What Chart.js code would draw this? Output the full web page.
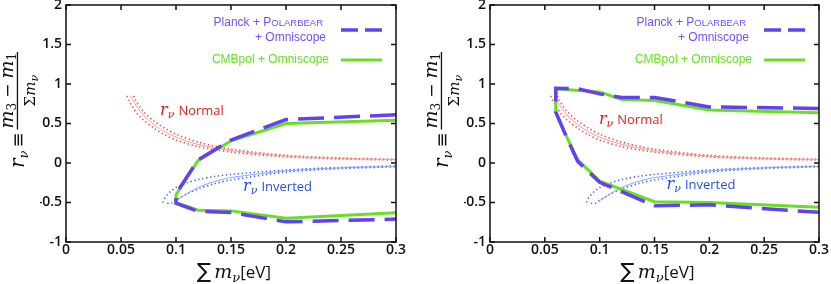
<!DOCTYPE html>
<html>
<head>
<meta charset="utf-8">
<script src="https://cdn.jsdelivr.net/npm/chart.js@4.4.0/dist/chart.umd.min.js"></script>
<style>
  html, body { margin: 0; padding: 0; background: #fff; }
  #wrap { position: relative; width: 831px; height: 284px; overflow: hidden; }
  canvas { position: absolute; top: 0; }
</style>
</head>
<body>
<div id="wrap">
  <canvas id="chartLeft" width="415" height="284" style="left:0"></canvas>
  <canvas id="chartRight" width="416" height="284" style="left:415px"></canvas>
</div>
<script>
// ── data ─────────────────────────────────────────────────
const XTICKS = [0, 0.05, 0.1, 0.15, 0.2, 0.25, 0.3];
const XTICK_LABELS = ['0', '0.05', '0.1', '0.15', '0.2', '0.25', '0.3'];
const YTICKS = [-1, -0.5, 0, 0.5, 1, 1.5, 2];
const YTICK_LABELS = ['-1', '-0.5', '0', '0.5', '1', '1.5', '2'];

// r_nu for the normal hierarchy (central + two dotted bounds)
const NORMAL_X    = [0.0587, 0.06, 0.065, 0.07, 0.08, 0.09, 0.1, 0.12, 0.15, 0.2, 0.25, 0.3];
const NORMAL_Y    = [0.85, 0.81, 0.70, 0.61, 0.485, 0.395, 0.327, 0.236, 0.157, 0.088, 0.058, 0.043];
const NORMAL_HI_X = [0.0615, 0.063, 0.067, 0.07, 0.08, 0.09, 0.1, 0.12, 0.15, 0.2, 0.25, 0.3];
const NORMAL_HI_Y = [0.85, 0.80, 0.71, 0.655, 0.53, 0.44, 0.365, 0.265, 0.175, 0.097, 0.064, 0.048];
const NORMAL_LO_X = [0.0555, 0.057, 0.06, 0.065, 0.07, 0.08, 0.09, 0.1, 0.12, 0.15, 0.2, 0.25, 0.3];
const NORMAL_LO_Y = [0.85, 0.80, 0.72, 0.62, 0.55, 0.44, 0.355, 0.29, 0.208, 0.139, 0.078, 0.051, 0.038];

// r_nu for the inverted hierarchy
const INVERTED_X    = [0.0995, 0.1, 0.101, 0.103, 0.105, 0.11, 0.12, 0.135, 0.15, 0.2, 0.25, 0.3];
const INVERTED_Y    = [-0.50, -0.48, -0.465, -0.45, -0.435, -0.387, -0.31, -0.235, -0.185, -0.10, -0.062, -0.043];
const INVERTED_HI_X = [0.088, 0.09, 0.095, 0.1, 0.11, 0.12, 0.135, 0.15, 0.2, 0.25, 0.3];
const INVERTED_HI_Y = [-0.50, -0.44, -0.36, -0.31, -0.25, -0.21, -0.17, -0.145, -0.088, -0.056, -0.038];
const INVERTED_LO_X = [0.092, 0.096, 0.1, 0.105, 0.11, 0.12, 0.135, 0.15, 0.2, 0.25, 0.3];
const INVERTED_LO_Y = [-0.51, -0.51, -0.47, -0.43, -0.39, -0.33, -0.262, -0.215, -0.115, -0.07, -0.048];

// left panel contours
const LEFT_PLANCK_X = [0.3, 0.2, 0.15, 0.12, 0.1, 0.1, 0.12, 0.15, 0.2, 0.3];
const LEFT_PLANCK_Y = [0.61, 0.55, 0.29, 0.04, -0.39, -0.51, -0.61, -0.627, -0.745, -0.71];
const LEFT_CMB_X    = [0.3, 0.2, 0.15, 0.12, 0.1, 0.1, 0.12, 0.15, 0.2, 0.3];
const LEFT_CMB_Y    = [0.54, 0.50, 0.28, 0.03, -0.40, -0.50, -0.597, -0.606, -0.699, -0.631];

// right panel contours
const RIGHT_PLANCK_X = [0.3, 0.2, 0.15, 0.12, 0.1, 0.08, 0.06, 0.06, 0.07, 0.08, 0.1, 0.15, 0.2, 0.3];
const RIGHT_PLANCK_Y = [0.69, 0.71, 0.83, 0.83, 0.875, 0.94, 0.945, 0.64, 0.32, 0.02, -0.245, -0.54, -0.53, -0.625];
const RIGHT_CMB_X    = [0.3, 0.2, 0.15, 0.12, 0.1, 0.06, 0.06, 0.07, 0.08, 0.1, 0.15, 0.2, 0.3];
const RIGHT_CMB_Y    = [0.635, 0.67, 0.79, 0.805, 0.90, 0.94, 0.65, 0.33, 0.04, -0.23, -0.49, -0.50, -0.56];

const COLORS = {
  planck:   '#6440f2',
  planckTx: '#7050ff',
  cmb:      '#66e022',
  red:      '#ff4848',
  redThin:  '#ff9a9a',
  redText:  '#e41c1c',
  blue:     '#4a6af0',
  blueThin: '#8ea4ff',
  blueText: '#2a4ee0',
  axis:     '#111',
};

const pts = (xs, ys) => xs.map((x, i) => ({ x, y: ys[i] }));

function curveSets() {
  const dotted = (xs, ys, c) => ({ data: pts(xs, ys), borderColor: c, borderWidth: 1.6, borderDash: [1.4, 2.6], pointRadius: 0, showLine: true, tension: 0.3 });
  const thin   = (xs, ys, c) => ({ data: pts(xs, ys), borderColor: c, borderWidth: 1, pointRadius: 0, showLine: true, tension: 0.3 });
  return [
    thin(NORMAL_X, NORMAL_Y, COLORS.redThin),
    dotted(NORMAL_HI_X, NORMAL_HI_Y, COLORS.red),
    dotted(NORMAL_LO_X, NORMAL_LO_Y, COLORS.red),
    thin(INVERTED_X, INVERTED_Y, COLORS.blueThin),
    dotted(INVERTED_HI_X, INVERTED_HI_Y, COLORS.blue),
    dotted(INVERTED_LO_X, INVERTED_LO_Y, COLORS.blue),
  ];
}

// ── text helpers ──────────────────────────────────────────
const MATH = '"DejaVu Serif"';
const SANS = '"Open Sans"';

// draw pieces left to right, returns end x
function run(ctx, x, y, parts) {
  parts.forEach(p => {
    ctx.font = p.font;
    ctx.fillText(p.t, x, y + (p.dy || 0));
    x += ctx.measureText(p.t).width + (p.gap || 0);
  });
  return x;
}
function runWidth(ctx, parts) {
  let w = 0;
  parts.forEach(p => { ctx.font = p.font; w += ctx.measureText(p.t).width + (p.gap || 0); });
  return w;
}

function drawYTitle(ctx, a) {
  ctx.save();
  ctx.translate(a.left - 42, 168);
  ctx.rotate(-Math.PI / 2);
  ctx.fillStyle = COLORS.axis;
  ctx.textAlign = 'left';
  ctx.textBaseline = 'alphabetic';
  let u = run(ctx, 0, 0, [
    { t: 'r', font: `italic 20px ${MATH}` },
    { t: 'ν', font: `italic 13px ${MATH}`, dy: 4, gap: 3 },
    { t: '≡', font: `18px "DejaVu Sans"`, gap: 3 },
  ]);
  const num = [
    { t: 'm', font: `italic 19px ${MATH}` },
    { t: '3', font: `12px ${MATH}`, dy: 3, gap: 5 },
    { t: '−', font: `17px "DejaVu Sans"`, gap: 5 },
    { t: 'm', font: `italic 19px ${MATH}` },
    { t: '1', font: `12px ${MATH}`, dy: 3 },
  ];
  const den = [
    { t: 'Σ', font: `15px ${MATH}` },
    { t: 'm', font: `italic 15px ${MATH}` },
    { t: 'ν', font: `italic 11px ${MATH}`, dy: 3 },
  ];
  const nw = runWidth(ctx, num), dw = runWidth(ctx, den);
  const fw = Math.max(nw, dw) + 2;
  ctx.fillRect(u, -7.2, fw, 1.3);
  run(ctx, u + (fw - nw) / 2, -11, num);
  run(ctx, u + (fw - dw) / 2, 11, den);
  ctx.restore();
}

function drawXTitle(ctx, a) {
  const parts = [
    { t: '∑', font: `21px "DejaVu Sans"`, gap: 3 },
    { t: 'm', font: `italic 19px ${MATH}` },
    { t: 'ν', font: `italic 13px ${MATH}`, dy: 4 },
    { t: '[eV]', font: `17px ${SANS}` },
  ];
  ctx.save();
  ctx.fillStyle = COLORS.axis;
  ctx.textBaseline = 'alphabetic';
  ctx.textAlign = 'left';
  const w = runWidth(ctx, parts);
  run(ctx, (a.left + a.right) / 2 - w / 2 + 3, 278, parts);
  ctx.restore();
}

function drawLabel(ctx, chart, at, word, color) {
  const x = chart.scales.x.getPixelForValue(at[0]);
  const y = chart.scales.y.getPixelForValue(at[1]);
  ctx.save();
  ctx.fillStyle = color;
  ctx.textBaseline = 'alphabetic';
  ctx.textAlign = 'left';
  run(ctx, x, y, [
    { t: 'r', font: `italic 16px ${MATH}` },
    { t: 'ν', font: `italic 11px ${MATH}`, dy: 3, gap: 4 },
    { t: word, font: `13px ${SANS}` },
  ]);
  ctx.restore();
}

function drawLegend(ctx, a) {
  const R = a.right;
  ctx.save();
  ctx.textBaseline = 'middle';
  ctx.textAlign = 'left';
  ctx.fillStyle = COLORS.planckTx;
  const l1 = [
    { t: 'Planck + P', font: `12px "Liberation Sans"` },
    { t: 'OLARBEAR', font: `9.5px "Liberation Sans"` },
  ];
  run(ctx, R - 73 - runWidth(ctx, l1), 23, l1);
  ctx.font = `12px "Liberation Sans"`;
  ctx.textAlign = 'right';
  ctx.fillText('+ Omniscope', R - 70, 38);
  ctx.fillStyle = COLORS.cmb;
  ctx.fillText('CMBpol + Omniscope', R - 67, 60);

  ctx.lineWidth = 3.5;
  ctx.strokeStyle = COLORS.planck;
  ctx.setLineDash([17, 7]);
  ctx.beginPath(); ctx.moveTo(R - 55, 30); ctx.lineTo(R - 14, 30); ctx.stroke();
  ctx.setLineDash([]);
  ctx.lineWidth = 3;
  ctx.strokeStyle = COLORS.cmb;
  ctx.beginPath(); ctx.moveTo(R - 55, 60); ctx.lineTo(R - 14, 60); ctx.stroke();
  ctx.restore();
}

// frame with inward ticks on all four sides, titles, legend, curve labels
const decor = {
  id: 'decor',
  afterDatasetsDraw(chart, args, opts) {
    const { ctx, chartArea: a, scales } = chart;
    ctx.save();
    ctx.strokeStyle = COLORS.axis;
    ctx.lineWidth = 1.5;
    ctx.strokeRect(a.left, a.top, a.right - a.left, a.bottom - a.top);
    ctx.beginPath();
    XTICKS.forEach(v => {
      const px = scales.x.getPixelForValue(v);
      ctx.moveTo(px, a.bottom); ctx.lineTo(px, a.bottom - 5);
      ctx.moveTo(px, a.top); ctx.lineTo(px, a.top + 5);
    });
    YTICKS.forEach(v => {
      const py = scales.y.getPixelForValue(v);
      ctx.moveTo(a.left, py); ctx.lineTo(a.left + 5, py);
      ctx.moveTo(a.right, py); ctx.lineTo(a.right - 5, py);
    });
    ctx.stroke();
    ctx.restore();

    drawLabel(ctx, chart, opts.normalAt, 'Normal', COLORS.redText);
    drawLabel(ctx, chart, opts.invertedAt, 'Inverted', COLORS.blueText);
    drawLegend(ctx, a);
    drawYTitle(ctx, a);
    drawXTitle(ctx, a);
  },
};

const TICK_FONT = { family: 'Open Sans', size: 14, weight: '600' };

function makeChart(id, planck, cmb, padding, labels) {
  return new Chart(document.getElementById(id), {
    type: 'scatter',
    data: {
      datasets: [
        { data: planck, borderColor: COLORS.planck, borderWidth: 3.5, borderDash: [26, 10], pointRadius: 0, showLine: true },
        { data: cmb, borderColor: COLORS.cmb, borderWidth: 3, pointRadius: 0, showLine: true },
        ...curveSets(),
      ],
    },
    options: {
      responsive: false,
      animation: false,
      events: [],
      layout: { padding },
      plugins: { legend: { display: false }, tooltip: { enabled: false }, decor: labels },
      scales: {
        x: {
          type: 'linear', min: 0, max: 0.3,
          afterBuildTicks: s => { s.ticks = XTICKS.map(v => ({ value: v })); },
          afterFit: s => { s.height = 42; s.paddingLeft = 0; s.paddingRight = 0; },
          ticks: { callback: (v, i) => XTICK_LABELS[i], font: TICK_FONT, color: COLORS.axis, padding: 0, maxRotation: 0, autoSkip: false },
          grid: { display: false, drawTicks: false },
          border: { display: false },
        },
        y: {
          type: 'linear', min: -1, max: 2,
          afterBuildTicks: s => { s.ticks = YTICKS.map(v => ({ value: v })); },
          afterFit: s => { s.width = 26; s.paddingTop = 0; s.paddingBottom = 0; },
          ticks: { callback: (v, i) => YTICK_LABELS[i], font: TICK_FONT, color: COLORS.axis, padding: 4, autoSkip: false },
          grid: { display: false, drawTicks: false },
          border: { display: false },
        },
      },
    },
    plugins: [decor],
  });
}

makeChart('chartLeft', pts(LEFT_PLANCK_X, LEFT_PLANCK_Y), pts(LEFT_CMB_X, LEFT_CMB_Y),
  { left: 40, right: 19, top: 5, bottom: 0 },
  { normalAt: [0.0855, 0.61], invertedAt: [0.161, -0.35] });

makeChart('chartRight', pts(RIGHT_PLANCK_X, RIGHT_PLANCK_Y), pts(RIGHT_CMB_X, RIGHT_CMB_Y),
  { left: 49, right: 12, top: 5, bottom: 0 },
  { normalAt: [0.0993, 0.49], invertedAt: [0.161, -0.33] });
</script>
</body>
</html>
